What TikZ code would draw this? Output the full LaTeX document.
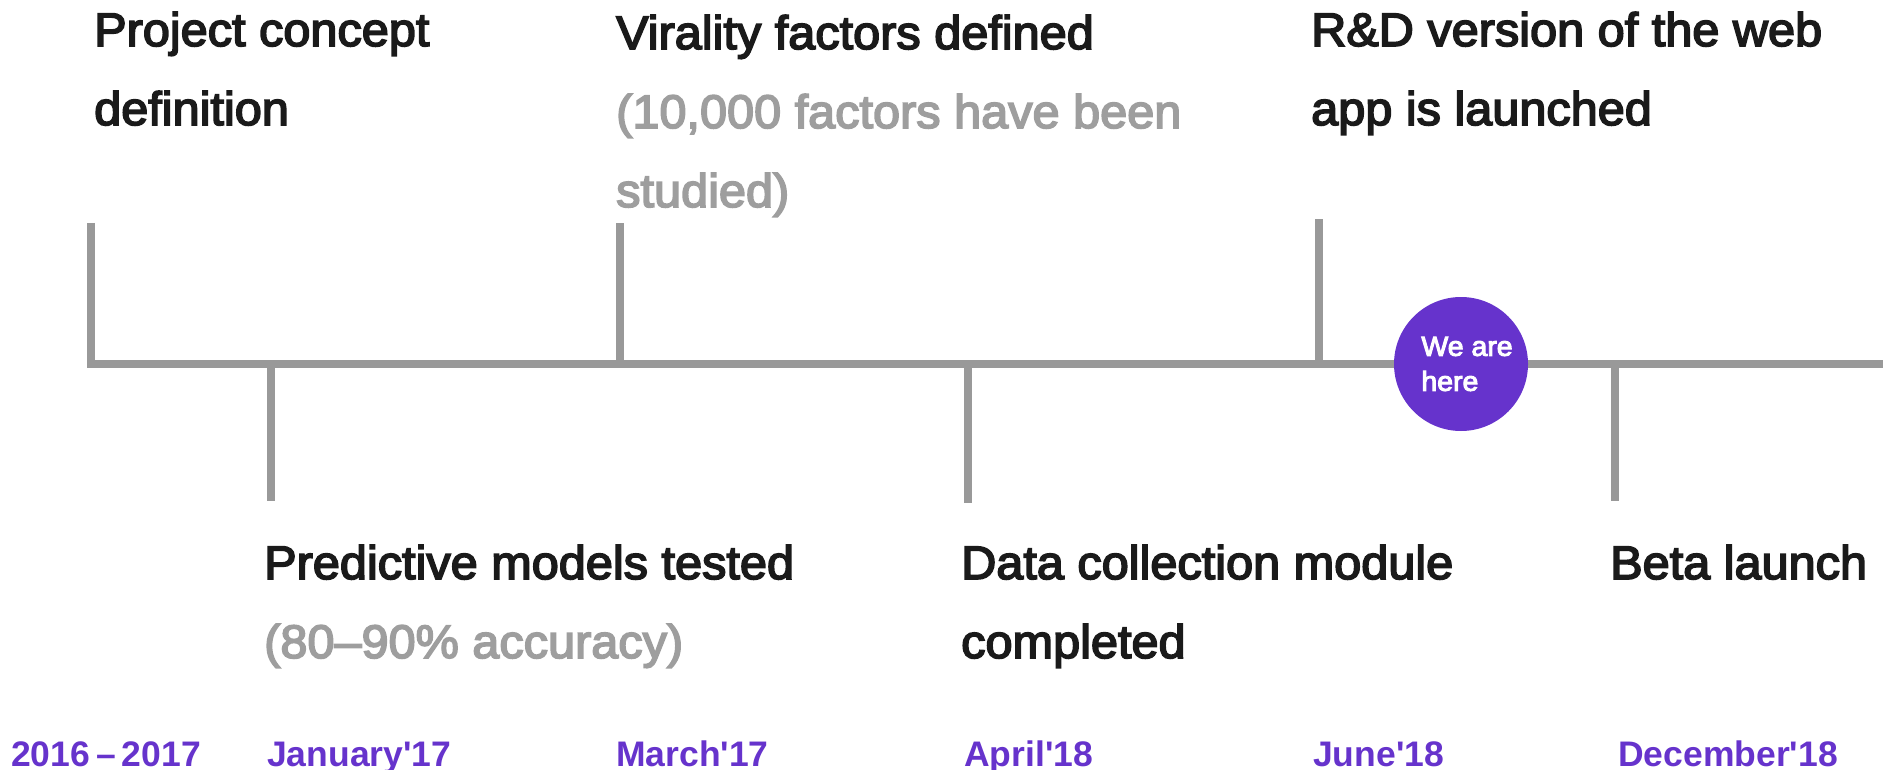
\documentclass[tikz,border=0pt]{standalone}
\usepackage{fontspec}
\setmainfont{Liberation Sans}
\newfontfamily\titlefont[FakeBold=3.5,FakeStretch=1.035]{Liberation Sans}
\newfontfamily\datefont{Liberation Sans}
\definecolor{linegray}{HTML}{999999}
\definecolor{purp}{HTML}{6633CC}
\definecolor{ink}{HTML}{1A1A1A}
\definecolor{muted}{HTML}{9E9E9E}
\tikzset{
  axis/.style={draw=linegray, line width=7.5pt, line join=miter},
  tick/.style={draw=linegray, line width=7.5pt},
  milestone/.style={font=\titlefont\fontsize{47}{79}\selectfont, text=ink,
    anchor=base west, inner sep=0pt, align=left},
  datelabel/.style={font=\datefont\bfseries\fontsize{35.5}{40}\selectfont, text=purp,
    anchor=base west, inner sep=0pt},
  herebadge/.style={circle, fill=purp, minimum size=134pt, inner sep=0pt},
  badgetext/.style={text=white, align=left, inner sep=0pt,
    font=\titlefont\fontsize{27.5}{35}\selectfont},
}
\begin{document}
\begin{tikzpicture}[x=1pt,y=-1pt]
\useasboundingbox (0,0) rectangle (1883,770);

% axis and tick end points
\coordinate (t0) at (91,223);
\coordinate (c0) at (91,364);
\coordinate (axisend) at (1883,364);
\coordinate (c1) at (271,364);   \coordinate (t1) at (271,501);
\coordinate (c2) at (620,364);   \coordinate (t2) at (620,223);
\coordinate (c3) at (968,364);   \coordinate (t3) at (968,503);
\coordinate (c4) at (1319,364);  \coordinate (t4) at (1319,219);
\coordinate (c5) at (1615,364);  \coordinate (t5) at (1615,501);

% timeline
\draw[axis] (t0) -- (c0) -- (axisend);
\draw[tick] (c1) -- (t1);
\draw[tick] (c2) -- (t2);
\draw[tick] (c3) -- (t3);
\draw[tick] (c4) -- (t4);
\draw[tick] (c5) -- (t5);

% current position marker
\node[herebadge] (here) at (1461,364) {};
\node[badgetext] (heretext) at ([xshift=6pt]here.center) {We are\\here};

% milestones above the axis (anchored at the baseline of their last line)
\node[milestone] (m0) at (94,125) {Project concept\\definition};
\node[milestone] (m2) at (616,207) {Virality factors defined\\\textcolor{muted}{(10,000 factors have been}\\\textcolor{muted}{studied)}};
\node[milestone] (m4) at (1311,125) {R\&D version of the web\\app is launched};

% milestones below the axis
\node[milestone] (m1) at (264,658) {Predictive models tested\\\textcolor{muted}{(80–90\% accuracy)}};
\node[milestone] (m3) at (961,658) {Data collection module\\completed};
\node[milestone] (m5) at (1610,579) {Beta launch};

% dates
\node[datelabel] (d0) at (11,766) {2016\kern6pt–\kern6pt2017};
\node[datelabel] (d1) at (267,766) {January'17};
\node[datelabel] (d2) at (616,766) {March'17};
\node[datelabel] (d3) at (964,766) {April'18};
\node[datelabel] (d4) at (1313,766) {June'18};
\node[datelabel] (d5) at (1618,766) {December'18};
\end{tikzpicture}
\end{document}
